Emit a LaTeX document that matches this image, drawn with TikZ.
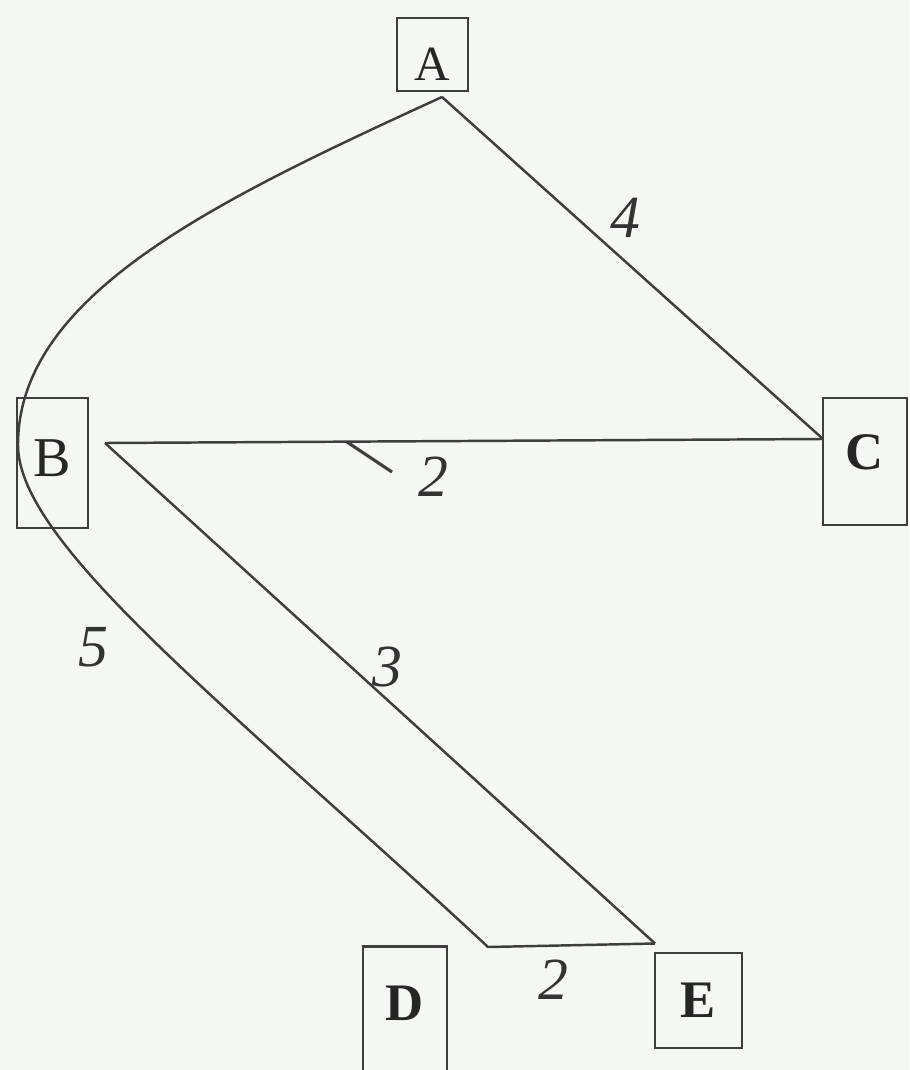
\documentclass[tikz,border=0pt]{standalone}
\usepackage{fontspec}
\setmainfont{Liberation Serif}
\usetikzlibrary{positioning,calc}
\definecolor{paper}{RGB}{244,247,243}
\definecolor{ink}{RGB}{62,62,62}

\begin{document}
\begin{tikzpicture}[
  vertex/.style={draw=ink,line width=1.3pt,inner sep=0pt,text=black!85,font=\fontsize{32}{36}\selectfont},
  heavy/.style={vertex,font=\fontsize{30}{34}\selectfont\bfseries},
  edge/.style={draw=ink,line width=1.4pt,line join=round},
  weight/.style={text=black!80,inner sep=0pt,font=\fontsize{34}{38}\selectfont\itshape}]
\fill[paper] (0,0) rectangle (18.18,-21.4);
\useasboundingbox (0,0) rectangle (18.18,-21.4);
% vertices
\node[vertex,minimum width=1.42cm,minimum height=1.46cm,text height=1.05cm,font=\fontsize{28}{32}\selectfont] (A) at (8.65,-1.09) {A};
\node[vertex,minimum width=1.42cm,minimum height=2.60cm,text depth=0.2cm] (B) at (1.05,-9.26) {B};
\node[heavy,minimum width=1.68cm,minimum height=2.54cm,text depth=0.38cm] (C) at (17.30,-9.23) {C};
\node[heavy,minimum width=1.68cm,minimum height=2.62cm,text depth=0.36cm] (D) at (8.10,-20.24) {D};
\node[heavy,minimum width=1.74cm,minimum height=1.90cm] (E) at (13.97,-20.01) {E};
% junction points of the hand-drawn edges
\coordinate (Atip) at (8.84,-1.94);
\coordinate (Bjoin) at (2.10,-8.86);
\coordinate (Cjoin) at (16.46,-8.78);
\coordinate (Dcorner) at (9.76,-18.94);
\coordinate (Ejoin) at (13.10,-18.87);
\coordinate (Bleft) at (0.36,-8.90);
% edges
\draw[edge] (Atip) -- (Cjoin);
\draw[edge] (Bjoin) -- (Cjoin);
\draw[edge] (Bjoin) -- (Ejoin);
\draw[edge] (Atip) .. controls (4.30,-4.02) and (0.36,-5.90) .. (Bleft)
  .. controls (0.36,-10.90) and (4.64,-14.18) .. (Dcorner) -- (Ejoin);
% weights
\node[weight] (wAC) at (12.50,-4.36) {4};
\node[weight] (wBC) at (8.66,-9.54) {2};
\node[weight] (wBE) at (7.74,-13.34) {3};
\node[weight] (wBD) at (1.86,-12.94) {5};
\node[weight] (wDE) at (11.06,-19.60) {2};
\coordinate (tick) at (6.94,-8.84);
\draw[edge,line width=1.8pt] (tick) -- (7.84,-9.44);
\end{tikzpicture}
\end{document}
